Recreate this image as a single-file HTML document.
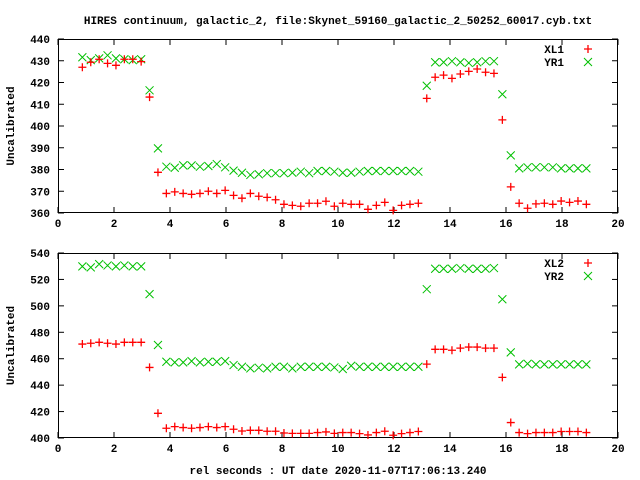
<!DOCTYPE html>
<html><head><meta charset="utf-8"><style>
html,body{margin:0;padding:0;background:#fff;}
svg{display:block;font-family:"Liberation Mono",monospace;font-weight:bold;font-size:11px;}
</style></head><body>
<svg id="chart" width="640" height="480" xmlns="http://www.w3.org/2000/svg">
<rect width="640" height="480" fill="#fff"/>
<text x="338" y="24" text-anchor="middle">HIRES continuum, galactic_2, file:Skynet_59160_galactic_2_50252_60017.cyb.txt</text>
<text x="338" y="474" text-anchor="middle">rel seconds : UT date 2020-11-07T17:06:13.240</text>
<g id="top"></g>
<g id="bot"></g>
</svg>
<script>
const xStart = 0.87, xStep = 0.3;
const XL1 = [427.0,429.3,430.7,428.8,427.9,430.7,430.7,429.6,413.3,378.7,369.0,369.7,369.0,368.6,369.0,370.0,369.0,370.4,368.1,366.8,369.0,367.7,367.2,366.1,364.0,363.5,363.1,364.5,364.5,365.4,363.1,364.5,364.0,364.0,361.7,363.5,364.9,361.2,363.5,364.0,364.5,412.7,422.4,423.4,421.9,423.9,425.1,426.2,424.7,424.2,402.8,372.0,364.5,362.2,364.2,364.5,364.0,365.5,364.9,365.5,364.0];
const YR1 = [431.6,430.3,431.1,432.5,431.1,430.7,430.3,430.7,416.4,389.7,381.3,380.8,381.9,381.9,381.3,381.6,382.5,381.0,379.5,378.5,377.5,377.8,378.3,378.3,378.3,378.5,379.0,378.3,379.3,379.3,379.0,378.5,378.5,379.0,379.3,379.3,379.3,379.3,379.3,379.3,379.0,418.5,429.3,429.3,429.8,429.3,429.0,429.3,429.8,429.8,414.6,386.5,380.5,381.0,381.0,381.0,381.0,380.5,380.5,380.5,380.5];
const XL2 = [471.1,471.7,472.4,471.7,471.1,472.4,472.4,472.4,453.4,418.7,407.4,408.6,407.9,407.4,407.9,408.6,407.9,408.6,406.6,405.3,405.8,405.8,405.1,405.1,403.8,403.5,403.5,403.5,404.1,404.6,403.5,404.1,404.1,403.3,402.3,404.1,405.1,402.1,403.3,404.1,404.9,455.9,467.1,467.1,466.4,468.0,468.8,468.8,468.0,468.0,445.9,411.7,404.1,403.3,404.1,404.1,404.1,404.9,404.9,404.9,404.1];
const YR2 = [529.9,529.1,531.6,530.6,529.9,530.6,529.9,529.9,508.9,470.4,457.7,457.2,457.2,458.2,457.2,457.7,457.7,458.2,455.2,453.9,452.7,453.2,452.7,453.9,453.9,452.7,453.9,453.9,453.9,453.9,453.4,452.2,454.7,453.9,453.9,453.9,453.9,453.9,453.9,453.9,453.9,512.6,528.1,528.1,528.1,528.6,528.1,528.1,528.1,528.6,505.0,464.8,455.7,456.2,455.7,455.7,455.7,455.7,455.7,455.7,455.7];
const xTicks = [0,2,4,6,8,10,12,14,16,18,20];
const yTicksTop = [360,370,380,390,400,410,420,430,440];
const yTicksBot = [400,420,440,460,480,500,520,540];
const NS = "http://www.w3.org/2000/svg";
function mk(parent, tag, attrs){const e=document.createElementNS(NS,tag);for(const k in attrs)e.setAttribute(k,attrs[k]);parent.appendChild(e);return e;}
function panel(g, top, bottom, ymin, ymax, yTicks, s1, s2, n1, n2, legY){
  const L=58,R=618;
  const xs=v=>L+(v-0)/(20-0)*(R-L);
  const ys=v=>bottom-(v-ymin)/(ymax-ymin)*(bottom-top);
  for(const t of xTicks){
    const x=xs(t);
    const a=mk(g,'line',{x1:x,y1:bottom,x2:x,y2:bottom-6,stroke:'#000'});
    
    
    mk(g,'line',{x1:x,y1:top,x2:x,y2:top+6,stroke:'#000'});
    const tx=mk(g,'text',{x:x,y:bottom+14,'text-anchor':'middle'});
    
    
    tx.textContent=t;
  }
  for(const t of yTicks){
    const y=ys(t);
    const a=mk(g,'line',{x1:L,y1:y,x2:L+6,y2:y,stroke:'#000'});
    
    
    mk(g,'line',{x1:R,y1:y,x2:R-6,y2:y,stroke:'#000'});
    const tx=mk(g,'text',{x:L-8,y:y+4,'text-anchor':'end'});
    
    
    tx.textContent=t;
  }
  const fr=mk(g,'rect',{x:L+0.5,y:top+0.5,width:R-L-1,height:bottom-top-1,fill:'none',stroke:'#000'});
  
  
  const yl=mk(g,'text',{x:14,y:(top+bottom)/2,'text-anchor':'middle',transform:`rotate(-90 14 ${(top+bottom)/2})`});
  
  
  yl.textContent='Uncalibrated';
  function plus(x,y){return `M${x-4},${y}H${x+4}M${x},${y-4}V${y+4}`;}
  function cross(x,y){return `M${x-4},${y-4}L${x+4},${y+4}M${x-4},${y+4}L${x+4},${y-4}`;}
  let d2='';s2.forEach((v,i)=>{d2+=cross(xs(xStart+i*xStep),ys(v));});
  const p2=mk(g,'path',{d:d2,stroke:'#00c000',fill:'none','stroke-width':1});
  
  
  let d1='';s1.forEach((v,i)=>{d1+=plus(xs(xStart+i*xStep),ys(v));});
  const p1=mk(g,'path',{d:d1,stroke:'#ff0000',fill:'none','stroke-width':1.3});
  
  
  const l1=mk(g,'text',{x:564,y:legY+4,'text-anchor':'end'});
  
  
  l1.textContent=n1;
  mk(g,'path',{d:plus(588,legY),stroke:'#ff0000','stroke-width':1.3,fill:'none'});
  const l2=mk(g,'text',{x:564,y:legY+17,'text-anchor':'end'});
  
  
  l2.textContent=n2;
  mk(g,'path',{d:cross(588,legY+13),stroke:'#00c000',fill:'none'});
}
panel(document.getElementById('top'),39,213,360,440,yTicksTop,XL1,YR1,'XL1','YR1',49);
panel(document.getElementById('bot'),253,438,400,540,yTicksBot,XL2,YR2,'XL2','YR2',263);
</script>
</body></html>
